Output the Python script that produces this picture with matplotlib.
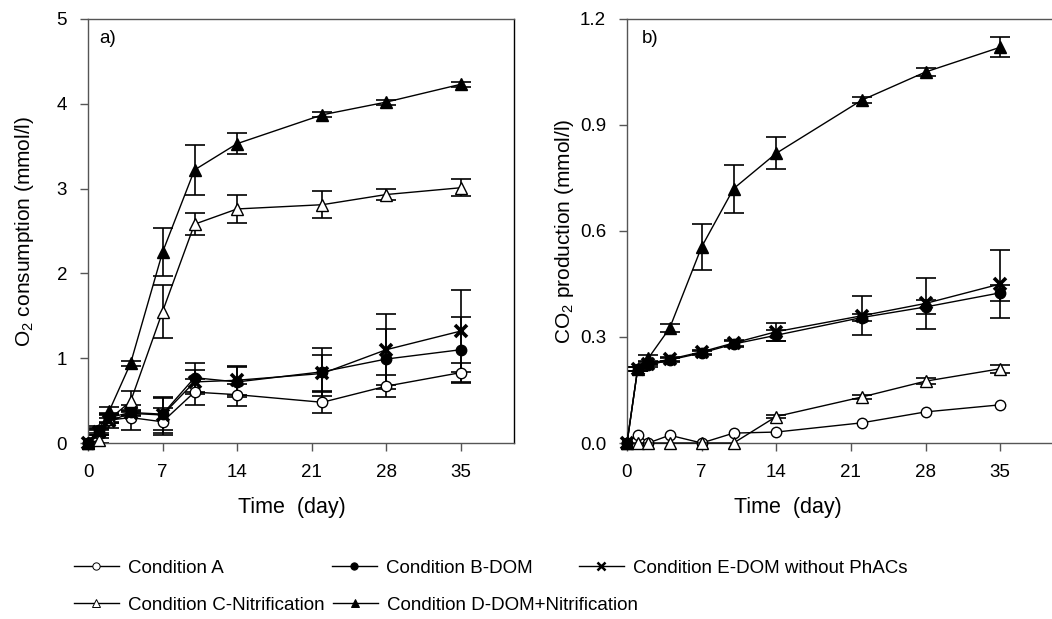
import numpy as np
import matplotlib.pyplot as plt
from matplotlib.lines import Line2D

plt.rcParams['font.family'] = ['Liberation Sans', 'DejaVu Sans']
plt.rcParams['mathtext.fontset'] = 'custom'
plt.rcParams['mathtext.rm'] = 'Liberation Sans'

# sampling days
days = [0, 1, 2, 4, 7, 10, 14, 22, 28, 35]

labels = ['Condition A', 'Condition B-DOM', 'Condition C-Nitrification',
          'Condition D-DOM+Nitrification', 'Condition E-DOM without PhACs']

# a) O2 consumption (mmol/l)
o2_A = [0, 0.12, 0.27, 0.30, 0.25, 0.60, 0.57, 0.48, 0.67, 0.83]
o2_A_err = [0, 0.03, 0.03, 0.15, 0.16, 0.15, 0.13, 0.13, 0.13, 0.11]
o2_B = [0, 0.15, 0.30, 0.36, 0.34, 0.77, 0.72, 0.84, 0.99, 1.10]
o2_B_err = [0, 0.05, 0.05, 0.03, 0.19, 0.17, 0.18, 0.28, 0.35, 0.39]
o2_C = [0, 0.03, 0.28, 0.49, 1.55, 2.58, 2.76, 2.81, 2.93, 3.01]
o2_C_err = [0, 0.03, 0.05, 0.12, 0.31, 0.13, 0.17, 0.16, 0.07, 0.10]
o2_D = [0, 0.15, 0.38, 0.94, 2.25, 3.22, 3.53, 3.87, 4.02, 4.23]
o2_D_err = [0, 0.03, 0.04, 0.03, 0.28, 0.29, 0.12, 0.03, 0.03, 0.03]
o2_E = [0, 0.13, 0.26, 0.35, 0.33, 0.72, 0.74, 0.82, 1.10, 1.32]
o2_E_err = [0, 0.04, 0.08, 0.03, 0.21, 0.14, 0.17, 0.22, 0.42, 0.48]

# b) CO2 production (mmol/l)
co2_A = [0, 0.024, 0.0, 0.022, 0.0, 0.028, 0.031, 0.057, 0.088, 0.108]
co2_A_err = [0, 0, 0, 0, 0, 0, 0, 0, 0, 0]
co2_B = [0, 0.21, 0.22, 0.235, 0.255, 0.28, 0.305, 0.355, 0.385, 0.425]
co2_B_err = [0, 0.005, 0.005, 0.005, 0.005, 0.008, 0.015, 0.01, 0.02, 0.022]
co2_C = [0, 0, 0, 0, 0, 0, 0.075, 0.13, 0.175, 0.21]
co2_C_err = [0, 0, 0, 0, 0, 0, 0.005, 0.005, 0.008, 0.012]
co2_D = [0, 0.21, 0.24, 0.325, 0.555, 0.72, 0.82, 0.97, 1.05, 1.12]
co2_D_err = [0, 0.005, 0.008, 0.012, 0.066, 0.068, 0.045, 0.008, 0.01, 0.028]
co2_E = [0, 0.21, 0.225, 0.237, 0.258, 0.283, 0.315, 0.36, 0.395, 0.45]
co2_E_err = [0, 0.005, 0.005, 0.005, 0.005, 0.008, 0.025, 0.055, 0.073, 0.095]

# marker style per condition: marker, face colour, size, edge width
styles = [('o', 'white', 7.5, 1.0),
          ('o', 'black', 7.5, 1.0),
          ('^', 'white', 9, 1.0),
          ('^', 'black', 9, 1.0),
          ('x', 'black', 8, 2.6)]

# legend entry anchors (pixels from top-left): A, B, C, D, E
leg_pos = [(70, 568), (328, 568), (70, 605), (329, 605), (575, 568)]

spine_col = '#555555'


def draw_panel(ax, series, errors):
    x = np.array(days)
    for y, e in zip(series, errors):
        y = np.array(y)
        e = np.array(e)
        m = e > 0
        ax.errorbar(x[m], y[m], yerr=e[m], fmt='none', ecolor='black',
                    elinewidth=1.2, capsize=7, capthick=1.2, clip_on=False, zorder=2)
    for y, st in zip(series, styles):
        mk, fc, ms, mew = st
        ax.plot(days, y, color='black', lw=1.0, marker=mk, mfc=fc, mec='black',
                ms=ms, mew=mew, clip_on=False, zorder=3)
    ax.set_xlim(0, 40)
    ax.set_xticks([0, 7, 14, 21, 28, 35])
    for s in ax.spines.values():
        s.set_color(spine_col)
        s.set_linewidth(1.0)
    ax.tick_params(direction='out', length=6, width=1, color=spine_col,
                   labelsize=13.5, pad=9)
    ax.set_xlabel('Time  (day)', fontsize=15.5)


fig = plt.figure(figsize=(10.52, 6.19), dpi=100)
ax1 = fig.add_axes([88 / 1052, 1 - 443 / 619, 426 / 1052, 424 / 619])
ax2 = fig.add_axes([627 / 1052, 1 - 443 / 619, 426.5 / 1052, 424 / 619])

draw_panel(ax1, [o2_A, o2_B, o2_C, o2_D, o2_E],
           [o2_A_err, o2_B_err, o2_C_err, o2_D_err, o2_E_err])
ax1.set_ylim(0, 5)
ax1.set_yticks([0, 1, 2, 3, 4, 5])
ax1.spines['right'].set_color('black')
ax1.set_ylabel('O$_\\mathrm{2}$ consumption (mmol/l)', fontsize=15)
ax1.yaxis.set_label_coords(-52 / 426, 0.5)
ax1.xaxis.set_label_coords(0.479, -54 / 424)
ax1.text(0.026, 0.955, 'a)', transform=ax1.transAxes, fontsize=13.5, va='center')

draw_panel(ax2, [co2_A, co2_B, co2_C, co2_D, co2_E],
           [co2_A_err, co2_B_err, co2_C_err, co2_D_err, co2_E_err])
ax2.set_ylim(0, 1.2)
ax2.set_yticks([0, 0.3, 0.6, 0.9, 1.2])
ax2.set_yticklabels(['0.0', '0.3', '0.6', '0.9', '1.2'])
ax2.set_ylabel('CO$_\\mathrm{2}$ production (mmol/l)', fontsize=15)
ax2.yaxis.set_label_coords(-51 / 426, 0.5)
ax2.xaxis.set_label_coords(0.378, -54 / 424)
ax2.text(0.035, 0.955, 'b)', transform=ax2.transAxes, fontsize=13.5, va='center')

# legend entries placed one by one below the panels
for st, lab, (px, py) in zip(styles, labels, leg_pos):
    mk, fc, ms, mew = st
    h = Line2D([], [], color='black', lw=1.0, marker=mk, mfc=fc,
               mec='black', ms=ms * 0.7, mew=mew * 0.7)
    fig.legend([h], [lab], loc='center left',
               bbox_to_anchor=(px / 1052, 1 - py / 619),
               frameon=False, handlelength=2.4, handletextpad=0.5,
               borderpad=0.2, borderaxespad=0, fontsize=13.5)

fig.savefig('out.png', dpi=100)
